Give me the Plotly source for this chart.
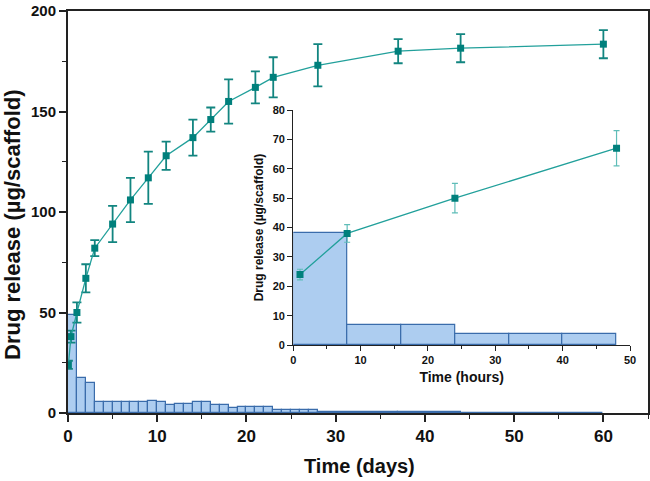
import plotly.graph_objects as go

# ---- main curve: cumulative release (days) ----
days = [0.042, 0.333, 1, 2, 3, 5, 7, 9, 11, 14, 16, 18, 21, 23, 28, 37, 44, 60]
release = [24, 38, 50, 67, 82, 94, 106, 117, 128, 137, 146, 155, 162, 167, 173, 180, 181.5, 183.5]
release_err = [2, 3, 5, 7, 4, 9, 11, 13, 7, 9, 6, 11, 8, 10, 10.5, 6, 7, 7]

# ---- main histogram: release per interval ----
hist_start = [0, 1, 2, 3, 4, 5, 6, 7, 8, 9, 10, 11, 12, 13, 14, 15, 16, 17, 18, 19, 20, 21, 22,
              23, 24, 25, 26, 27, 28, 37, 44]
hist_width = [1, 1, 1, 1, 1, 1, 1, 1, 1, 1, 1, 1, 1, 1, 1, 1, 1, 1, 1, 1, 1, 1, 1,
              1, 1, 1, 1, 1, 9, 7, 16]
hist_value = [49, 17.2, 14.8, 5.3, 5.3, 5.3, 5.3, 5.3, 5.3, 5.8, 5.3, 3.9, 4.3, 4.3, 5.4, 5.4,
              4.0, 4.0, 2.3, 2.8, 2.8, 2.8, 2.8, 1.5, 1.5, 1.5, 1.5, 1.5, 0.7, 0.4, 0.25]

# ---- inset: first 48 hours ----
hours = [1, 8, 24, 48]
hours_release = [24, 38, 50, 67]
hours_err = [1.8, 3, 5, 6]
inset_start = [0, 8, 16, 24, 32, 40]
inset_width = [8, 8, 8, 8, 8, 8]
inset_value = [38, 6.8, 6.8, 3.6, 3.6, 3.6]

main_ticks = [0, 10, 20, 30, 40, 50, 60]
main_yticks = [0, 50, 100, 150, 200]
inset_xticks = [0, 10, 20, 30, 40, 50]
inset_yticks = [0, 10, 20, 30, 40, 50, 60, 70, 80]

FONT = "Liberation Sans, Arial, sans-serif"
BAR_FILL = "rgba(164,200,238,0.9)"
BAR_LINE = "#3a6cab"
LINE_C = "#22a09b"
MARK_C = "#00807c"
ERR_C = "#128580"

fig = go.Figure()

fig.add_trace(go.Bar(
    x=[s + w / 2 for s, w in zip(hist_start, hist_width)], y=hist_value, width=hist_width,
    marker=dict(color=BAR_FILL, line=dict(color=BAR_LINE, width=1.2)),
    xaxis="x", yaxis="y", showlegend=False))

fig.add_trace(go.Scatter(
    x=days, y=release, mode="lines+markers",
    line=dict(color=LINE_C, width=1.3),
    marker=dict(symbol="square", size=7, color=MARK_C),
    error_y=dict(type="data", array=release_err, color=ERR_C, thickness=1.8, width=4.5),
    xaxis="x", yaxis="y", showlegend=False))

fig.add_trace(go.Bar(
    x=[s + w / 2 for s, w in zip(inset_start, inset_width)], y=inset_value, width=inset_width,
    marker=dict(color=BAR_FILL, line=dict(color=BAR_LINE, width=1.2)),
    xaxis="x2", yaxis="y2", showlegend=False))

fig.add_trace(go.Scatter(
    x=hours, y=hours_release, mode="lines+markers",
    line=dict(color=LINE_C, width=1.3),
    marker=dict(symbol="square", size=7, color=MARK_C),
    error_y=dict(type="data", array=hours_err, color="#5fbdb8", thickness=1.2, width=3),
    xaxis="x2", yaxis="y2", showlegend=False))

axis_common = dict(showgrid=False, zeroline=False, ticks="outside", tickcolor="#222",
                   linecolor="#222", automargin=False)

fig.update_layout(
    width=650, height=481,
    margin=dict(l=68, r=2, t=11, b=68),
    paper_bgcolor="white", plot_bgcolor="white",
    barmode="overlay", bargap=0,
    font=dict(family=FONT, color="#111"),
    xaxis=dict(**axis_common, range=[0, 65], tickvals=main_ticks, ticklen=7, tickwidth=1.5,
               linewidth=2, mirror=True, showline=True,
               minor=dict(tickvals=[5, 15, 25, 35, 45, 55, 65], ticklen=4, tickwidth=1.3, tickcolor="#222"),
               tickfont=dict(size=17, weight="bold")),
    yaxis=dict(**axis_common, range=[0, 200], tickvals=main_yticks, ticklen=7, tickwidth=1.5,
               linewidth=2, mirror=True, showline=True,
               minor=dict(tickvals=[25, 75, 125, 175], ticklen=4, tickwidth=1.3, tickcolor="#222"),
               tickfont=dict(size=15, weight="bold")),
    xaxis2=dict(**axis_common, domain=[0.3884, 0.969], anchor="y2", range=[0, 50],
                tickvals=inset_xticks, ticklen=5, tickwidth=1.2, linewidth=1.3, showline=True,
                minor=dict(tickvals=[5, 15, 25, 35, 45], ticklen=3, tickwidth=1, tickcolor="#222"),
                tickfont=dict(size=11, weight="bold"),
                title=dict(text="Time (hours)", font=dict(size=14, weight="bold"), standoff=6)),
    yaxis2=dict(**axis_common, domain=[0.169, 0.7537], anchor="x2", range=[0, 80],
                tickvals=inset_yticks, ticklen=5, tickwidth=1.2, linewidth=1.3, showline=True,
                tickfont=dict(size=11, weight="bold"),
                title=dict(text="Drug release (µg/scaffold)", font=dict(size=12, weight="bold"), standoff=6)),
    annotations=[
        dict(text="Time (days)", xref="paper", yref="paper", x=0.5034, y=-0.132,
             xanchor="center", yanchor="middle", showarrow=False,
             font=dict(size=20, weight="bold")),
        dict(text="Drug release (µg/scaffold)", xref="paper", yref="paper", x=-0.0948, y=0.4677,
             xanchor="center", yanchor="middle", textangle=-90, showarrow=False,
             font=dict(size=22, weight="bold")),
    ],
)

fig.write_html("out.html", config={"displayModeBar": False},
               post_script="document.body.style.margin='0';document.body.style.overflow='hidden';")
